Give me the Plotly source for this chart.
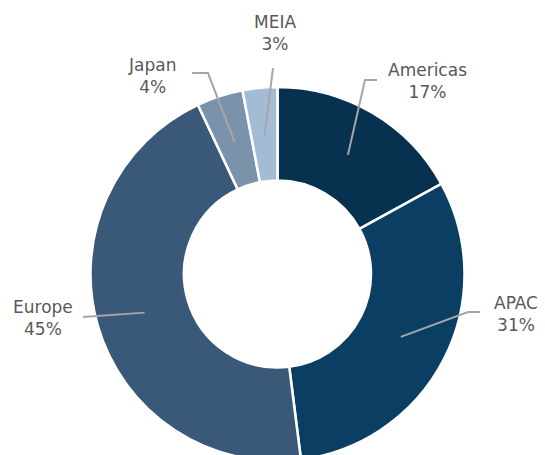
import math
import plotly.graph_objects as go

W, H = 545, 455
OFF = 8  # the page body adds an 8px margin around the figure

regions = ['Americas', 'APAC', 'Europe', 'Japan', 'MEIA']
shares = [17, 31, 45, 4, 3]
colors = ['#06314f', '#0b3e63', '#3a5878', '#7a92aa', '#a3bcd6']

# pie placement (window pixels)
cx, cy, R = 277.5, 274, 187

# label layout: text centre, elbow point, line end (window pixels)
label_pos = {
    'Americas': dict(text=(427, 81), elbow=(365, 80), end=(377, 80)),
    'APAC': dict(text=(516, 314), elbow=(468, 312), end=(480, 312)),
    'Europe': dict(text=(43, 318), elbow=None, end=(83, 317)),
    'Japan': dict(text=(152, 76), elbow=(208, 73), end=(192, 73)),
    'MEIA': dict(text=(275, 33), elbow=None, end=(273, 68)),
}


def px(x):
    return (x - OFF) / W


def py(y):
    return 1 - (y - OFF) / H


fig = go.Figure(go.Pie(
    labels=regions, values=shares, sort=False, direction='clockwise', rotation=0,
    hole=0.5, textinfo='none', hoverinfo='none',
    marker=dict(colors=colors, line=dict(color='white', width=2.5)),
    domain=dict(x=[px(cx - R), px(cx + R)], y=[py(cy + R), py(cy - R)]),
    showlegend=False))

shapes, annotations = [], []
cum = 0
for name, val in zip(regions, shares):
    theta = 2 * math.pi * (cum + val / 2) / sum(shares)
    cum += val
    r = 0.74 * R
    sx, sy = cx + r * math.sin(theta), cy - r * math.cos(theta)
    lp = label_pos[name]
    pts = [(sx, sy)]
    if lp['elbow']:
        pts.append(lp['elbow'])
    pts.append(lp['end'])
    path = 'M ' + ' L '.join(f'{px(x):.4f},{py(y):.4f}' for x, y in pts)
    shapes.append(dict(type='path', path=path, xref='paper', yref='paper',
                       line=dict(color='#a6a6a6', width=2)))
    tx, ty = lp['text']
    annotations.append(dict(text=f'{name}<br>{val}%', x=px(tx), y=py(ty), xref='paper', yref='paper',
                            showarrow=False, xanchor='center', yanchor='middle',
                            font=dict(size=17, color='#595959', family='DejaVu Sans')))

fig.update_layout(width=W, height=H, margin=dict(l=0, r=0, t=0, b=0),
                  paper_bgcolor='white', plot_bgcolor='white',
                  shapes=shapes, annotations=annotations,
                  font=dict(family='DejaVu Sans', color='#595959'))

fig.write_html("out.html")
